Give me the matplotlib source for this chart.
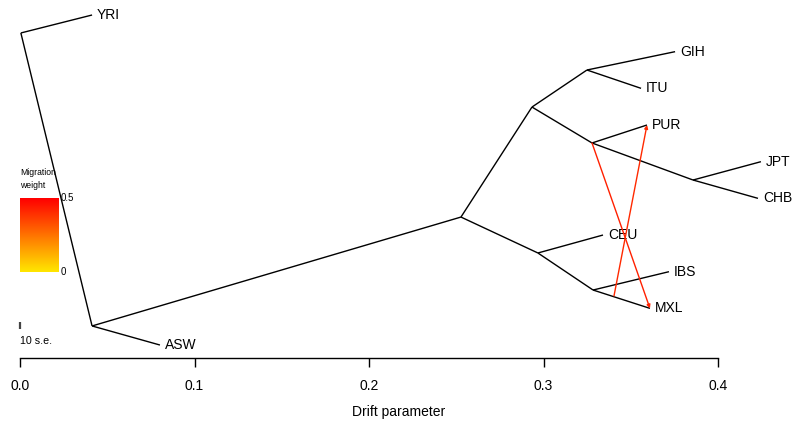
'''
TreeMix style drift tree with two migration edges.
'''

import numpy as np
from matplotlib import pyplot as pl
from matplotlib.colors import LinearSegmentedColormap

pl.rcParams['font.family'] = ['Liberation Sans', 'DejaVu Sans']

# Tips: name, drift (x), y position
tip_names = ['YRI', 'GIH', 'ITU', 'PUR', 'JPT', 'CHB', 'CEU', 'IBS', 'MXL', 'ASW']
tip_x = [0.0413, 0.3754, 0.3559, 0.3593, 0.4246, 0.4229, 0.3341, 0.3719, 0.3610, 0.0802]
tip_y = [1.0, 0.9, 0.8, 0.7, 0.6, 0.5, 0.4, 0.3, 0.2, 0.1]

# Internal nodes
node_names = ['root', 'n1', 'n2', 'n3', 'n4', 'n5', 'n6', 'n7', 'n8']
node_x = [0.0005, 0.0413, 0.2527, 0.2934, 0.3249, 0.3278, 0.3857, 0.2968, 0.3284]
node_y = [0.951, 0.152, 0.449, 0.749, 0.850, 0.651, 0.550, 0.351, 0.250]

# Edges parent -> child
edges = [('root', 'YRI'), ('root', 'n1'), ('n1', 'ASW'), ('n1', 'n2'),
         ('n2', 'n3'), ('n2', 'n7'), ('n3', 'n4'), ('n3', 'n5'),
         ('n4', 'GIH'), ('n4', 'ITU'), ('n5', 'PUR'), ('n5', 'n6'),
         ('n6', 'JPT'), ('n6', 'CHB'), ('n7', 'CEU'), ('n7', 'n8'),
         ('n8', 'IBS'), ('n8', 'MXL')]

# Migration edges: start point, target tip, weight
mig_start_x = [0.3278, 0.3404]
mig_start_y = [0.651, 0.234]
mig_to = ['MXL', 'PUR']
mig_weight = [0.43, 0.41]

xticks = [0.0, 0.1, 0.2, 0.3, 0.4]

pos = {}
for n, x, y in zip(tip_names, tip_x, tip_y):
    pos[n] = (x, y)
for n, x, y in zip(node_names, node_x, node_y):
    pos[n] = (x, y)

cmap = LinearSegmentedColormap.from_list('mig', ['#FFE600', '#FF0000'])

fig = pl.figure(figsize=(7.95, 4.25), dpi=100)
ax = fig.add_axes([0, 0, 1, 1])

# pixel -> data scale
xpx = 1745.0
ypx = 366.7
ax.set_xlim(-20/xpx, (795-20)/xpx)
ax.set_ylim(1-410/ypx, 1+15/ypx)

for a, b in edges:
    ax.plot([pos[a][0], pos[b][0]], [pos[a][1], pos[b][1]],
            color='black', lw=1.0, solid_capstyle='butt')

for n, x, y in zip(tip_names, tip_x, tip_y):
    ax.text(x+5/xpx, y, n, fontsize=10, va='center', ha='left')

for sx, sy, t, w in zip(mig_start_x, mig_start_y, mig_to, mig_weight):
    ax.annotate('', xy=pos[t], xytext=(sx, sy),
                arrowprops=dict(arrowstyle='-|>', color=cmap(w/0.5), lw=1.0,
                                mutation_scale=5, shrinkA=0, shrinkB=0))

# Migration weight legend
grad = np.linspace(0, 1, 100).reshape(-1, 1)
ax.imshow(grad, cmap=cmap, origin='lower', aspect='auto',
          extent=(0, 38/xpx, 1-257/ypx, 1-183/ypx))
ax.text(0, 1-157/ypx, 'Migration', fontsize=6.2, va='center', ha='left')
ax.text(0, 1-170/ypx, 'weight', fontsize=6.2, va='center', ha='left')
ax.text(41/xpx, 1-183/ypx, '0.5', fontsize=7, va='center', ha='left')
ax.text(41/xpx, 1-257/ypx, '0', fontsize=7, va='center', ha='left')

# Scale bar
ax.plot([0, 0], [1-307/ypx, 1-314/ypx], color='#444444', lw=1.6,
        solid_capstyle='butt')
ax.text(0, 1-326/ypx, '10 s.e.', fontsize=7.7, va='center', ha='left')

# Bottom axis
ax.set_xticks(xticks)
ax.set_xticklabels(['%.1f' % t for t in xticks], fontsize=9.5)
ax.set_yticks([])
for s in ['top', 'right', 'left']:
    ax.spines[s].set_visible(False)
ax.spines['bottom'].set_position(('data', 1-343/ypx))
ax.spines['bottom'].set_bounds(0, 0.4)
ax.spines['bottom'].set_linewidth(1.0)
ax.tick_params(axis='x', direction='out', length=6.5, width=1.0, pad=8.5)
ax.patch.set_visible(False)

# xlab is centred on the plot region, not on the axis range
ax.text(379/xpx, 1-397/ypx, 'Drift parameter', fontsize=10, va='center', ha='center')

fig.savefig('out.png', dpi=100)
